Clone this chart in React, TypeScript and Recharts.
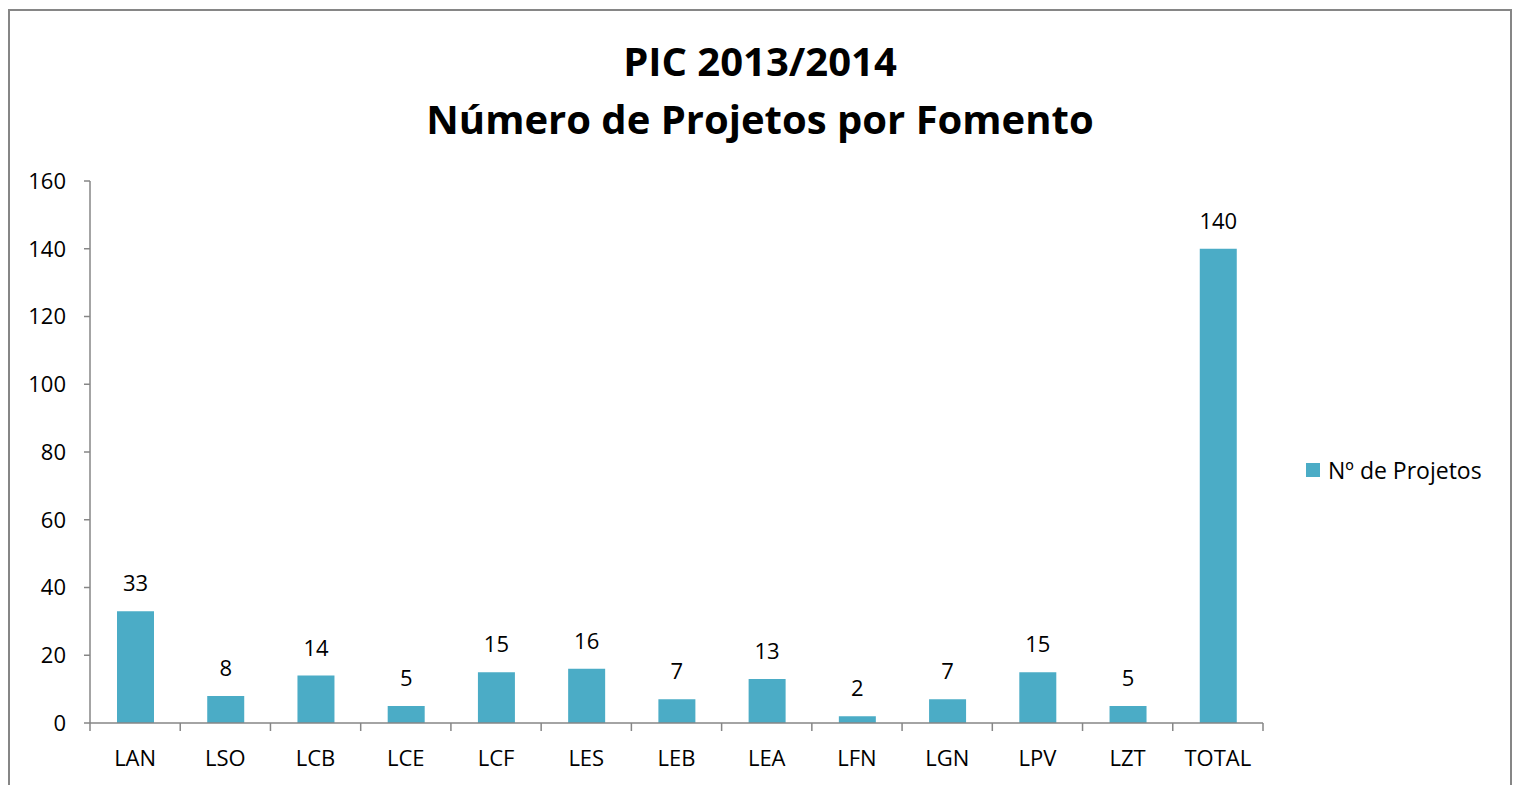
import React from "react";
import { BarChart, Bar, XAxis, YAxis, LabelList } from "recharts";

const categories = ["LAN", "LSO", "LCB", "LCE", "LCF", "LES", "LEB", "LEA", "LFN", "LGN", "LPV", "LZT", "TOTAL"];
const projetos = [33, 8, 14, 5, 15, 16, 7, 13, 2, 7, 15, 5, 140];
const yTicks = [0, 20, 40, 60, 80, 100, 120, 140, 160];

const seriesName = "Nº de Projetos";
const titleLines = ["PIC 2013/2014", "Número de Projetos por Fomento"];

const BAR_COLOR = "#4BACC6";
const AXIS_COLOR = "#868686";
const FONT = "'Open Sans', 'Liberation Sans', sans-serif";
const X_TICK_MARGIN = 26;

const data = categories.map((name, i) => ({ name, value: projetos[i] }));

// category label plus the tick marks on the category boundaries (Excel style)
const CategoryTick = (props: any) => {
  const { x, y, payload, index } = props;
  const half = payload.offset || 0;
  const axisY = y - X_TICK_MARGIN;
  const isLast = index === categories.length - 1;
  return (
    <g>
      <line x1={x - half} x2={x - half} y1={axisY} y2={axisY + 8} stroke={AXIS_COLOR} strokeWidth={1.5} />
      {isLast && (
        <line x1={x + half} x2={x + half} y1={axisY} y2={axisY + 8} stroke={AXIS_COLOR} strokeWidth={1.5} />
      )}
      <text x={x} y={y} dy="0.75em" textAnchor="middle" fill="#000" fontSize={22} fontFamily={FONT}>
        {payload.value}
      </text>
    </g>
  );
};

const App: React.FC = () => {
  return (
    <div style={{ position: "relative", width: 1504, height: 777, overflow: "hidden", fontFamily: FONT }}>
      <div
        style={{
          position: "absolute",
          left: 0,
          top: 1,
          width: 1504,
          height: 820,
          boxSizing: "border-box",
          border: `2px solid ${AXIS_COLOR}`,
        }}
      />
      <div
        style={{
          position: "absolute",
          left: 0,
          top: 24,
          width: 1504,
          textAlign: "center",
          fontWeight: 700,
          fontSize: 40,
          lineHeight: "58px",
          color: "#000",
        }}
      >
        {titleLines.map((t) => (
          <div key={t}>{t}</div>
        ))}
      </div>
      <BarChart
        width={1504}
        height={777}
        data={data}
        margin={{ top: 173, right: 249, bottom: 0, left: 0 }}
        style={{ position: "absolute", left: 0, top: 0 }}
      >
        <XAxis
          dataKey="name"
          axisLine={{ stroke: AXIS_COLOR, strokeWidth: 1.5 }}
          tickLine={false}
          tickSize={0}
          tickMargin={X_TICK_MARGIN}
          height={62}
          interval={0}
          tick={<CategoryTick />}
        />
        <YAxis
          domain={[0, 160]}
          ticks={yTicks}
          width={82}
          axisLine={{ stroke: AXIS_COLOR, strokeWidth: 1.5 }}
          tickLine={{ stroke: AXIS_COLOR, strokeWidth: 1.5 }}
          tickSize={6}
          tickMargin={18}
          tick={{ fill: "#000", fontSize: 22, fontFamily: FONT }}
        />
        <Bar dataKey="value" name={seriesName} fill={BAR_COLOR} barSize={37} isAnimationActive={false}>
          <LabelList dataKey="value" position="top" offset={20} fill="#000" fontSize={22} fontFamily={FONT} />
        </Bar>
      </BarChart>
      <div
        style={{
          position: "absolute",
          left: 1298,
          top: 446,
          display: "flex",
          alignItems: "center",
          fontSize: 23,
          color: "#000",
        }}
      >
        <span style={{ display: "inline-block", width: 14, height: 14, background: BAR_COLOR, marginRight: 8 }} />
        <span>{seriesName}</span>
      </div>
    </div>
  );
};

export default App;
